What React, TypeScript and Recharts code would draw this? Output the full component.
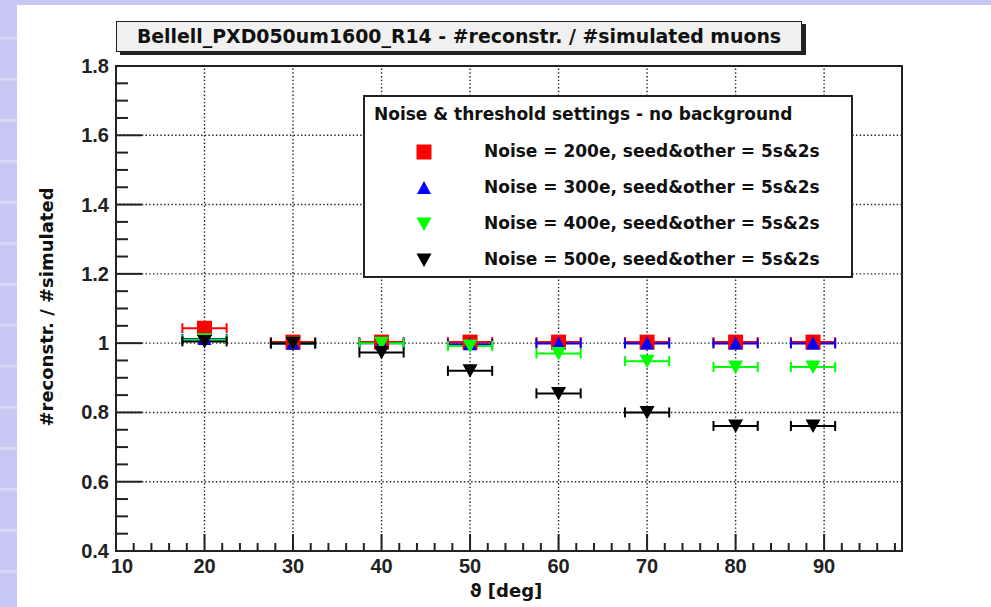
import {
  ScatterChart,
  Scatter,
  XAxis,
  YAxis,
  ErrorBar,
  ReferenceLine,
  ReferenceArea,
  Legend,
} from "recharts";

// bin centres in theta [deg] and half bin width
const THETA = [20, 30, 40, 50, 60, 70, 80, 88.75];
const THETA_ERR = [2.5, 2.5, 2.5, 2.5, 2.5, 2.5, 2.5, 2.5];

const NOISE_200 = [1.043, 1.003, 1.003, 1.003, 1.003, 1.003, 1.003, 1.003];
const NOISE_300 = [1.012, 0.998, 1.0, 0.997, 0.999, 0.999, 0.999, 0.999];
const NOISE_400 = [1.01, 1.0, 1.0, 0.992, 0.97, 0.948, 0.931, 0.931];
const NOISE_500 = [1.005, 1.0, 0.973, 0.92, 0.855, 0.8, 0.761, 0.761];

const SERIES_LABELS = [
  "Noise = 200e, seed&other = 5s&2s",
  "Noise = 300e, seed&other = 5s&2s",
  "Noise = 400e, seed&other = 5s&2s",
  "Noise = 500e, seed&other = 5s&2s",
];
const SERIES_COLORS = ["#ff0000", "#0000ff", "#00ff00", "#000000"];
const SERIES_MARKERS = ["square", "triangleUp", "triangleDown", "triangleDown"];

const X_MAJOR = [10, 20, 30, 40, 50, 60, 70, 80, 90];
const Y_MAJOR = [0.4, 0.6, 0.8, 1.0, 1.2, 1.4, 1.6, 1.8];
const X_GRID = [20, 30, 40, 50, 60, 70, 80, 90];
const Y_GRID = [0.6, 0.8, 1.0, 1.2, 1.4, 1.6];

const X_MIN = 10;
const X_MAX = 98.8;
const Y_MIN = 0.4;
const Y_MAX = 1.8;

// minor ticks: 5 divisions per major on x, 4 on y
const xTicks: number[] = [];
for (let v = 10; v <= 98; v += 2) xTicks.push(v);
const yTicks: number[] = [];
for (let i = 0; i <= 28; i++) yTicks.push(Math.round((0.4 + i * 0.05) * 100) / 100);

const isMajor = (v: number, majors: number[]) =>
  majors.some((m) => Math.abs(m - v) < 1e-6);

const seriesData = [NOISE_200, NOISE_300, NOISE_400, NOISE_500].map((vals) =>
  THETA.map((t, i) => ({ x: t, y: vals[i], ex: THETA_ERR[i] }))
);

const FONT_TICK = "'Liberation Sans', Arial, sans-serif";
const FONT_TEXT = "'DejaVu Sans', sans-serif";

const Marker = ({ cx, cy, kind, color }: any) => {
  if (cx == null || cy == null) return null;
  if (kind === "square") {
    return <rect x={cx - 7.5} y={cy - 7.5} width={15} height={15} fill={color} />;
  }
  if (kind === "triangleUp") {
    return (
      <polygon
        points={`${cx - 7},${cy + 6} ${cx + 7},${cy + 6} ${cx},${cy - 7}`}
        fill={color}
      />
    );
  }
  return (
    <polygon
      points={`${cx - 7.5},${cy - 6.5} ${cx + 7.5},${cy - 6.5} ${cx},${cy + 7}`}
      fill={color}
    />
  );
};

const YTick = ({ x, y, payload }: any) => {
  const major = isMajor(payload.value, Y_MAJOR);
  return (
    <g>
      <line x1={x} y1={y} x2={x + (major ? 26 : 12)} y2={y} stroke="#222" strokeWidth={2} />
      {major && (
        <text
          x={x - 7}
          y={y}
          textAnchor="end"
          dominantBaseline="central"
          fontFamily={FONT_TICK}
          fontWeight="bold"
          fontSize={20}
          fill="#222"
        >
          {payload.value === 1 ? "1" : payload.value.toFixed(1)}
        </text>
      )}
    </g>
  );
};

const XTick = ({ x, y, payload }: any) => {
  const major = isMajor(payload.value, X_MAJOR);
  return (
    <g>
      <line x1={x} y1={y} x2={x} y2={y - (major ? 17 : 8)} stroke="#222" strokeWidth={2} />
      {major && (
        <text
          x={payload.value === 10 ? x + 6 : x}
          y={y + 15}
          textAnchor="middle"
          dominantBaseline="central"
          fontFamily={FONT_TICK}
          fontWeight="bold"
          fontSize={20}
          fill="#222"
        >
          {payload.value}
        </text>
      )}
    </g>
  );
};

const LegendBox = () => (
  <div
    style={{
      width: 486,
      height: 179,
      border: "2px solid #222",
      background: "#fff",
      fontFamily: FONT_TEXT,
      fontWeight: "bold",
      fontSize: 17,
      color: "#111",
      position: "relative",
    }}
  >
    <div style={{ position: "absolute", left: 9, top: 7, whiteSpace: "nowrap" }}>
      Noise &amp; threshold settings - no background
    </div>
    {SERIES_LABELS.map((label, i) => (
      <div
        key={label}
        style={{ position: "absolute", left: 0, top: 43 + i * 36, height: 24, width: "100%" }}
      >
        <svg width={30} height={24} style={{ position: "absolute", left: 44, top: 0 }}>
          <Marker cx={15} cy={12} kind={SERIES_MARKERS[i]} color={SERIES_COLORS[i]} />
        </svg>
        <div style={{ position: "absolute", left: 119, top: 1, whiteSpace: "nowrap" }}>
          {label}
        </div>
      </div>
    ))}
  </div>
);

export default function App() {
  return (
    <div
      style={{
        position: "absolute",
        left: 0,
        top: 0,
        width: 991,
        height: 607,
        overflow: "hidden",
        background:
          "repeating-linear-gradient(180deg, #c6c7f2 0px, #c6c7f2 36px, #dcdcf7 38px, #c6c7f2 41px)",
      }}
    >
      <div
        style={{
          position: "absolute",
          left: 17,
          top: 5,
          width: 974,
          height: 602,
          background: "#fff",
        }}
      />
      <div
        style={{
          position: "absolute",
          left: 116,
          top: 21,
          width: 684,
          height: 29,
          background: "#f0f0f0",
          border: "1.5px solid #222",
          boxShadow: "4px 3px 0 #222",
          fontFamily: FONT_TEXT,
          fontWeight: "bold",
          fontSize: 18.9,
          color: "#111",
          textAlign: "center",
          lineHeight: "29px",
          whiteSpace: "nowrap",
        }}
      >
        Bellell_PXD050um1600_R14 - #reconstr. / #simulated muons
      </div>
      <div style={{ position: "absolute", left: 0, top: 0 }}>
        <ScatterChart
          width={991}
          height={607}
          margin={{ top: 66, right: 89, bottom: 0, left: 0 }}
        >
          <XAxis
            type="number"
            dataKey="x"
            domain={[X_MIN, X_MAX]}
            ticks={xTicks}
            interval={0}
            tickSize={0}
            tickMargin={0}
            axisLine={false}
            tickLine={false}
            tick={<XTick />}
            height={56}
            allowDataOverflow
          />
          <YAxis
            type="number"
            dataKey="y"
            domain={[Y_MIN, Y_MAX]}
            ticks={yTicks}
            interval={0}
            tickSize={0}
            tickMargin={0}
            axisLine={false}
            tickLine={false}
            tick={<YTick />}
            width={116}
            allowDataOverflow
          />
          {X_GRID.map((v) => (
            <ReferenceLine
              key={`gx-${v}`}
              x={v}
              stroke="#222"
              strokeWidth={1.4}
              strokeDasharray="1.4 2.3"
            />
          ))}
          {Y_GRID.map((v) => (
            <ReferenceLine
              key={`gy-${v}`}
              y={v}
              stroke="#222"
              strokeWidth={1.4}
              strokeDasharray="1.4 2.3"
            />
          ))}
          <ReferenceArea
            x1={X_MIN}
            x2={X_MAX}
            y1={Y_MIN}
            y2={Y_MAX}
            fill="none"
            fillOpacity={0}
            stroke="#222"
            strokeWidth={2}
          />
          {seriesData.map((data, i) => (
            <Scatter
              key={SERIES_LABELS[i]}
              name={SERIES_LABELS[i]}
              data={data}
              fill={SERIES_COLORS[i]}
              isAnimationActive={false}
              shape={(p: any) => (
                <Marker cx={p.cx} cy={p.cy} kind={SERIES_MARKERS[i]} color={SERIES_COLORS[i]} />
              )}
            >
              <ErrorBar
                dataKey="ex"
                direction="x"
                stroke={SERIES_COLORS[i]}
                strokeWidth={2}
                width={5}
                isAnimationActive={false}
              />
            </Scatter>
          ))}
          <Legend
            layout="vertical"
            align="center"
            verticalAlign="middle"
            content={() => <LegendBox />}
            wrapperStyle={{ left: 363, top: 95, width: 490, height: 183 }}
          />
        </ScatterChart>
      </div>
      <div
        style={{
          position: "absolute",
          left: 46,
          top: 307,
          transform: "translate(-50%, -50%) rotate(-90deg)",
          fontFamily: FONT_TEXT,
          fontWeight: "bold",
          fontSize: 18,
          color: "#111",
          whiteSpace: "nowrap",
        }}
      >
        #reconstr. / #simulated
      </div>
      <div
        style={{
          position: "absolute",
          left: 506,
          top: 590,
          transform: "translate(-50%, -50%)",
          fontFamily: FONT_TEXT,
          fontWeight: "bold",
          fontSize: 18,
          color: "#111",
          whiteSpace: "nowrap",
        }}
      >
        ϑ [deg]
      </div>
    </div>
  );
}
